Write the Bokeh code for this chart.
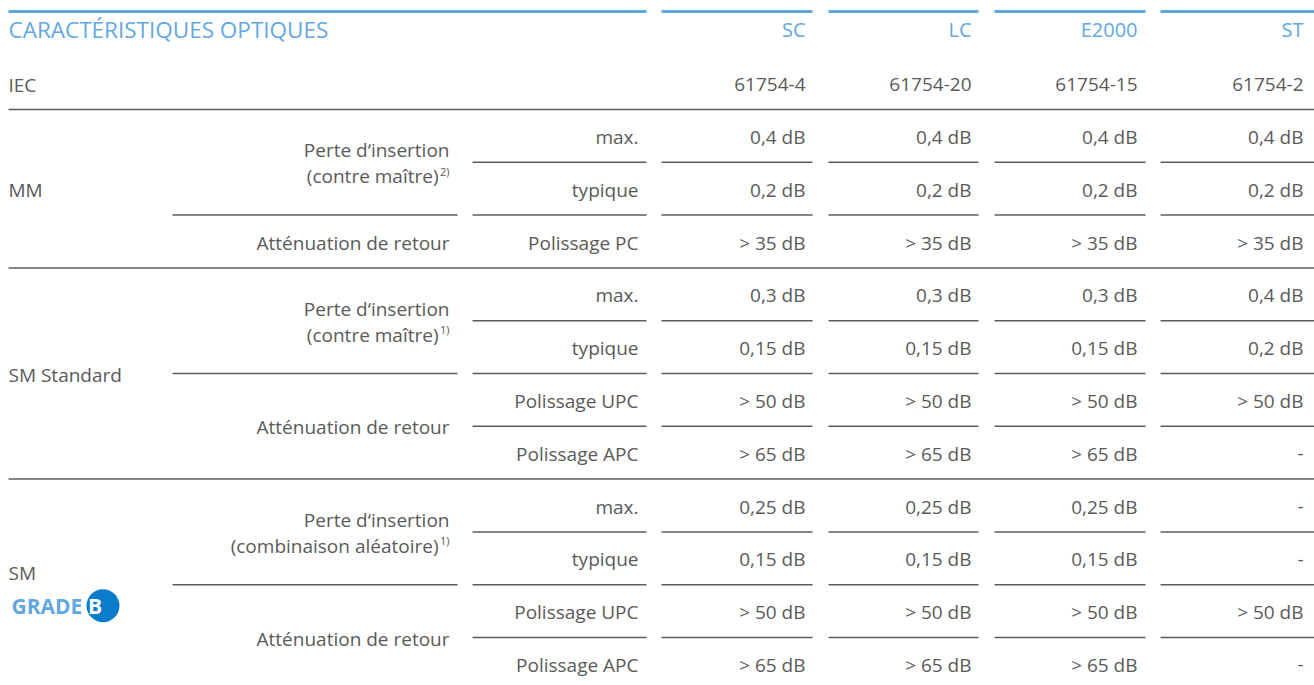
from bokeh.plotting import figure
from bokeh.models import ColumnDataSource, Range1d
from bokeh.embed import file_html
from bokeh.resources import INLINE
from bokeh.core.properties import value

# ---------------- data ----------------
title = "CARACTÉRISTIQUES OPTIQUES"
connectors = ["SC", "LC", "E2000", "ST"]
iec_label = "IEC"
iec = ["61754-4", "61754-20", "61754-15", "61754-2"]

groups = ["MM", "SM Standard", "SM"]
group_rows = [3, 4, 4]

param_line1 = ["Perte d‘insertion", "Atténuation de retour", "Perte d‘insertion",
               "Atténuation de retour", "Perte d‘insertion", "Atténuation de retour"]
param_line2 = ["(contre maître)", "", "(contre maître)", "", "(combinaison aléatoire)", ""]
param_notes = ["2)", "", "1)", "", "1)", ""]
param_rows = [2, 1, 2, 2, 2, 2]

conditions = ["max.", "typique", "Polissage PC",
              "max.", "typique", "Polissage UPC", "Polissage APC",
              "max.", "typique", "Polissage UPC", "Polissage APC"]

sc_values = ["0,4 dB", "0,2 dB", "> 35 dB", "0,3 dB", "0,15 dB", "> 50 dB", "> 65 dB",
             "0,25 dB", "0,15 dB", "> 50 dB", "> 65 dB"]
lc_values = ["0,4 dB", "0,2 dB", "> 35 dB", "0,3 dB", "0,15 dB", "> 50 dB", "> 65 dB",
             "0,25 dB", "0,15 dB", "> 50 dB", "> 65 dB"]
e2000_values = ["0,4 dB", "0,2 dB", "> 35 dB", "0,3 dB", "0,15 dB", "> 50 dB", "> 65 dB",
                "0,25 dB", "0,15 dB", "> 50 dB", "> 65 dB"]
st_values = ["0,4 dB", "0,2 dB", "> 35 dB", "0,4 dB", "0,2 dB", "> 50 dB", "-",
             "-", "-", "> 50 dB", "-"]
values = [sc_values, lc_values, e2000_values, st_values]

# ---------------- layout ----------------
FONT = value("Open Sans")
TXT = "#5a5a5a"
LINE = "#5c5c5c"
BLUE = "#62a8e0"
FS = "19px"

col_left = [8, 172, 472, 661, 828, 994, 1160]
col_right = [170, 457, 646, 812, 978, 1145, 1314]
text_right = [None, 449, 638, 805, 971, 1137, 1303]

top_line = 11
head_y = 29
iec_y = 84
row0 = 109.0
row_h = 52.8
n_rows = len(conditions)

def row_center(i):
    return row0 + row_h * (i + 0.5) + 1

def boundary(k):
    return row0 + row_h * k

W, H = 1314, 685
p = figure(width=W, height=H, output_backend="svg", toolbar_location=None,
           x_range=Range1d(0, W), y_range=Range1d(H, 0), min_border=0)
p.axis.visible = False
p.grid.visible = False
p.outline_line_color = None
p.background_fill_color = "white"
p.border_fill_color = "white"

# blue header lines
hx0 = [col_left[0]] + col_left[3:]
hx1 = [col_right[2]] + col_right[3:]
p.segment(x0=hx0, y0=[top_line] * len(hx0), x1=hx1, y1=[top_line] * len(hx0),
          line_color=BLUE, line_width=3)

# header texts
p.text(x=[8], y=[head_y], text=[title], text_font=FONT, text_font_size="22.5px",
       text_color=BLUE, text_baseline="middle", text_align="left")
p.text(x=text_right[3:], y=[head_y] * 4, text=connectors, text_font=FONT,
       text_font_size="20px", text_color=BLUE, text_baseline="middle", text_align="right")

# IEC row
p.text(x=[8], y=[iec_y], text=[iec_label], text_font=FONT, text_font_size=FS,
       text_color=TXT, text_baseline="middle", text_align="left")
p.text(x=text_right[3:], y=[iec_y] * 4, text=iec, text_font=FONT, text_font_size=FS,
       text_color=TXT, text_baseline="middle", text_align="right")

# row separator lines
sx0, sx1, sy = [], [], []
sx0.append(col_left[0]); sx1.append(col_right[-1]); sy.append(boundary(0))
group_ends = []
acc = 0
for g in group_rows:
    acc += g
    group_ends.append(acc)
param_ends = []
acc = 0
for r in param_rows:
    acc += r
    param_ends.append(acc)
for k in range(1, n_rows + 1):
    y = boundary(k)
    if k in group_ends:
        sx0.append(col_left[0]); sx1.append(col_right[-1]); sy.append(y)
        continue
    start = 1 if k in param_ends else 2
    for c in range(start, 7):
        sx0.append(col_left[c]); sx1.append(col_right[c]); sy.append(y)
p.segment(x0=sx0, y0=sy, x1=sx1, y1=sy, line_color=LINE, line_width=1.5)

# group labels
gy = []
acc = 0
for g in group_rows:
    gy.append((boundary(acc) + boundary(acc + g)) / 2 + 1)
    acc += g
gy[2] -= 13
p.text(x=[8] * len(groups), y=gy, text=groups, text_font=FONT, text_font_size=FS,
       text_color=TXT, text_baseline="middle", text_align="left")

# GRADE B logo
logo_y = gy[2] + 33
p.text(x=[11], y=[logo_y], text=["GRADE"], text_font=FONT, text_font_size="21px",
       text_font_style="bold", text_color="#62a8e0", text_baseline="middle", text_align="left")
p.scatter(x=[102.5], y=[logo_y], size=33, marker="circle", fill_color="#0a7ccc", line_color=None)
p.text(x=[94.5], y=[logo_y], text=["B"], text_font=FONT, text_font_size="21px",
       text_font_style="bold", text_color="white", text_baseline="middle", text_align="center")

# parameter labels
l1x, l1y, l1t = [], [], []
l2x, l2y, l2t = [], [], []
nx, ny, nt = [], [], []
acc = 0
for t1, t2, note, r in zip(param_line1, param_line2, param_notes, param_rows):
    cy = (boundary(acc) + boundary(acc + r)) / 2 + 1
    if t2:
        l1x.append(text_right[1]); l1y.append(cy - 13); l1t.append(t1)
        l2x.append(text_right[1] - 11); l2y.append(cy + 13); l2t.append(t2)
        nx.append(text_right[1]); ny.append(cy + 8); nt.append(note)
    else:
        l1x.append(text_right[1]); l1y.append(cy); l1t.append(t1)
    acc += r
p.text(x=l1x, y=l1y, text=l1t, text_font=FONT, text_font_size=FS, text_color=TXT,
       text_baseline="middle", text_align="right")
p.text(x=l2x, y=l2y, text=l2t, text_font=FONT, text_font_size=FS, text_color=TXT,
       text_baseline="middle", text_align="right")
p.text(x=nx, y=ny, text=nt, text_font=FONT, text_font_size="11px", text_color=TXT,
       text_baseline="middle", text_align="right")

# conditions and values
rows_y = [row_center(i) for i in range(n_rows)]
p.text(x=[text_right[2]] * n_rows, y=rows_y, text=conditions, text_font=FONT,
       text_font_size=FS, text_color=TXT, text_baseline="middle", text_align="right")
for ci, vals in enumerate(values):
    src = ColumnDataSource(dict(x=[text_right[3 + ci]] * n_rows, y=rows_y, t=vals))
    p.text(x="x", y="y", text="t", source=src, text_font=FONT, text_font_size=FS,
           text_color=TXT, text_baseline="middle", text_align="right")

open("out.html", "w").write(file_html(p, INLINE))
